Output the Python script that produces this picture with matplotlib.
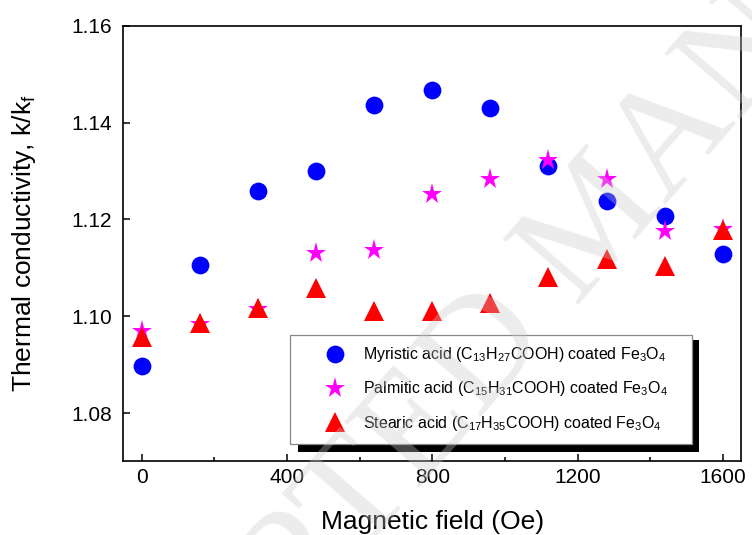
import matplotlib
matplotlib.use('Agg')
import matplotlib.pyplot as plt
from matplotlib.patches import Rectangle
from matplotlib.ticker import MultipleLocator, FormatStrFormatter

# ---- data ----
field = [0, 160, 320, 480, 640, 800, 960, 1120, 1280, 1440, 1600]
myristic = [1.0898, 1.1105, 1.1259, 1.1299, 1.1437, 1.1467, 1.1429, 1.1311, 1.1237, 1.1207, 1.1128]
palmitic = [1.0970, 1.0983, 1.1014, 1.1130, 1.1137, 1.1252, 1.1284, 1.1323, 1.1284, 1.1175, 1.1181]
stearic = [1.0958, 1.0987, 1.1017, 1.1058, 1.1010, 1.1010, 1.1027, 1.1080, 1.1119, 1.1104, 1.1179]
labels = [
    'Myristic acid (C$_{13}$H$_{27}$COOH) coated Fe$_3$O$_4$',
    'Palmitic acid (C$_{15}$H$_{31}$COOH) coated Fe$_3$O$_4$',
    'Stearic acid (C$_{17}$H$_{35}$COOH) coated Fe$_3$O$_4$',
]
x_ticks = [0, 400, 800, 1200, 1600]
y_ticks = [1.08, 1.10, 1.12, 1.14, 1.16]

plt.rcParams['font.family'] = ['Liberation Sans', 'DejaVu Sans']
plt.rcParams['mathtext.default'] = 'regular'

fig = plt.figure(figsize=(7.52, 5.35), dpi=100)
ax = fig.add_axes([0.1642, 0.1374, 0.8212, 0.8146])

h1, = ax.plot(field, myristic, 'o', color='#0000ff', ms=12.8, mew=0, zorder=3, label=labels[0])
h2, = ax.plot(field, palmitic, '*', color='#ff00ff', ms=15.5, mew=0, zorder=3.1, label=labels[1])
h3, = ax.plot(field, stearic, '^', color='#ff0000', ms=14.8, mew=0, zorder=3.2, label=labels[2])

ax.set_xlim(-50, 1650)
ax.set_ylim(1.07, 1.16)
ax.set_xticks(x_ticks)
ax.set_yticks(y_ticks)
ax.xaxis.set_minor_locator(MultipleLocator(200))
ax.yaxis.set_major_formatter(FormatStrFormatter('%.2f'))
ax.tick_params(which='major', direction='in', length=5, width=1.1, labelsize=15)
ax.tick_params(axis='x', which='major', pad=5)
ax.tick_params(axis='y', which='major', pad=8)
ax.tick_params(axis='x', which='minor', direction='in', length=3, width=1.1)
for s in ax.spines.values():
    s.set_linewidth(1.2)

ax.set_xlabel('Magnetic field (Oe)', fontsize=19, labelpad=16)
ax.set_ylabel('Thermal conductivity, k/k$_f$', fontsize=19, labelpad=24)

# legend box with black shadow
ax.add_patch(Rectangle((0.2834, 0.0218), 0.6478, 0.2570, transform=ax.transAxes,
                       facecolor='black', edgecolor='none', zorder=4))
ax.add_patch(Rectangle((0.2696, 0.0402), 0.6510, 0.2501, transform=ax.transAxes,
                       facecolor='white', edgecolor='#888888', lw=0.9, zorder=4.1))
leg = ax.legend(handles=[h1, h2, h3], loc='center left',
                bbox_to_anchor=(0.3166, 0.1664), frameon=False, fontsize=11.5,
                borderpad=0, borderaxespad=0, handlelength=2.0, handletextpad=0.75,
                labelspacing=0.95, numpoints=1)
leg.set_zorder(5)

# watermark
fig.text(600 / 752, 1 - 225 / 535, 'ACCEPTED MANUSCRIPT', fontsize=110,
         family='Liberation Serif', color='#c8c8c8', alpha=0.35, rotation=49,
         ha='center', va='center', rotation_mode='anchor', zorder=10)

fig.savefig('out.png', dpi=100)
